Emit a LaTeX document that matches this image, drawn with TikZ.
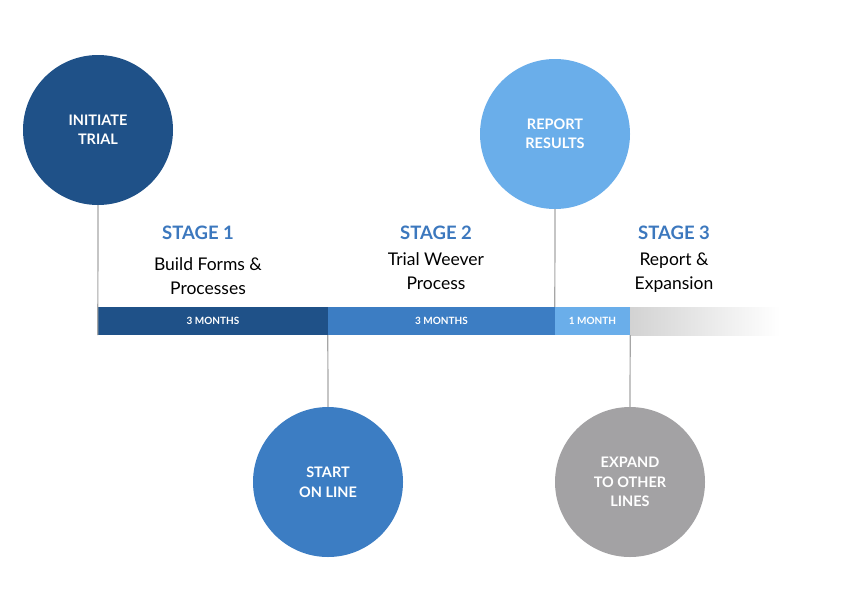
\documentclass[tikz,border=0pt]{standalone}
\usepackage{fontspec}
\setmainfont{Lato}
\usetikzlibrary{positioning}
\definecolor{darkblue}{HTML}{1F5188}
\definecolor{midblue}{HTML}{3C7DC3}
\definecolor{lightblue}{HTML}{6AAEEA}
\definecolor{milestone}{HTML}{A3A2A4}
\definecolor{stagetext}{HTML}{3C78BE}
\tikzset{
  milestone/.style={circle, minimum size=150, inner sep=0pt, text=white, align=center, font=\bfseries\fontsize{14.5}{19.5}\selectfont},
  segment/.style={minimum height=28, inner sep=0pt, text=white, font=\bfseries\fontsize{10}{12}\selectfont},
  stage/.style={text=stagetext, font=\bfseries\fontsize{18.5}{22}\selectfont},
  desc/.style={align=center, font=\fontsize{17.5}{24}\selectfont},
  stem/.style={draw=gray!70, line width=1.2pt}
}
\begin{document}
\begin{tikzpicture}[x=1pt, y=-1pt]
\useasboundingbox (0,0) rectangle (861,611);
\fill[white] (0,0) rectangle (861,611);

% Milestones
\node[milestone, fill=darkblue] (initiate) at (98,130) {INITIATE\\TRIAL};
\node[milestone, fill=lightblue] (report) at (555,134) {REPORT\\RESULTS};
\node[milestone, fill=midblue] (start) at (328,482) {START\\ON LINE};
\node[milestone, fill=milestone] (expand) at (630,482) {EXPAND\\TO OTHER\\LINES};

% Timeline
\node[segment, fill=darkblue, minimum width=230] (seg1) at (213,321) {3 MONTHS};
\node[segment, fill=midblue, minimum width=227] (seg2) at (441.5,321) {3 MONTHS};
\node[segment, fill=lightblue, minimum width=75] (seg3) at (592.5,321) {1 MONTH};
\shade[left color=gray!35, right color=white] (630,307) rectangle (780,335);
\coordinate (fadeend) at (780,321);

% Stems
\draw[stem] (initiate.south) -- (seg1.south west);
\draw[stem] (report.south) -- (seg3.north west);
\draw[stem] (seg2.south west) -- (start.north);
\draw[stem] (seg3.south east) -- (expand.north);

% Stages
\node[stage] (stage1) at (198,233) {STAGE 1};
\node[desc, below=11pt of stage1, xshift=10] (desc1) {Build Forms \&\\Processes};
\node[stage] (stage2) at (436,233) {STAGE 2};
\node[desc, below=6pt of stage2] (desc2) {Trial Weever\\Process};
\node[stage] (stage3) at (674,233) {STAGE 3};
\node[desc, below=6pt of stage3] (desc3) {Report \&\\Expansion};
\end{tikzpicture}
\end{document}
